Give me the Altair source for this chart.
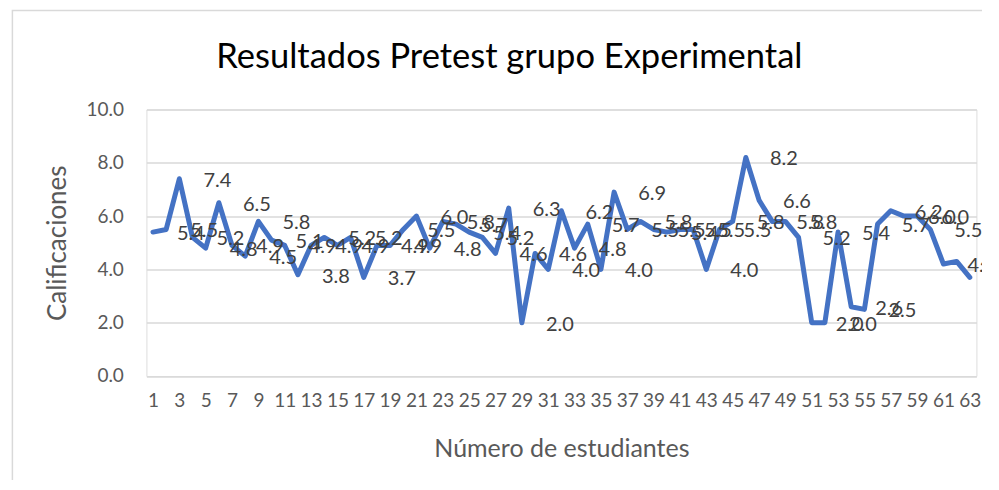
import altair as alt
import pandas as pd

students = list(range(1, 64))
scores = [5.4, 5.5, 7.4, 5.2, 4.8, 6.5, 4.9, 4.5, 5.8, 5.1,
          4.9, 3.8, 4.9, 5.2, 4.9, 5.2, 3.7, 4.9, 4.9, 5.5,
          6.0, 4.8, 5.8, 5.7, 5.4, 5.2, 4.6, 6.3, 2.0, 4.6,
          4.0, 6.2, 4.8, 5.7, 4.0, 6.9, 5.5, 5.8, 5.5, 5.4,
          5.5, 5.5, 4.0, 5.5, 5.8, 8.2, 6.6, 5.8, 5.8, 5.2,
          2.0, 2.0, 5.4, 2.6, 2.5, 5.7, 6.2, 6.0, 6.0, 5.5,
          4.2, 4.3, 3.7]
x_ticks = list(range(1, 64, 2))
y_ticks = [0, 2, 4, 6, 8, 10]

df = pd.DataFrame({"Estudiante": students, "Calificacion": scores})

FONT = "Lato"
GRAY = "#595959"
W, H = 830, 266.5

x_enc = alt.X("Estudiante:Q",
              scale=alt.Scale(domain=[0.5, 63.5], nice=False, zero=False),
              axis=alt.Axis(values=x_ticks, tickCount=100, format="d",
                            title="Número de estudiantes",
                            grid=False, ticks=False, domain=False,
                            labelOverlap=False, labelFlush=False,
                            labelFontSize=19, labelColor=GRAY, labelFont=FONT,
                            labelPadding=16, titleFont=FONT, titleFontSize=25,
                            titleColor=GRAY, titleFontWeight="normal",
                            titlePadding=26))
y_enc = alt.Y("Calificacion:Q",
              scale=alt.Scale(domain=[0, 10], nice=False),
              axis=alt.Axis(values=y_ticks, format=".1f", title="Calificaciones",
                            grid=True, gridColor="#d9d9d9", gridWidth=1.5,
                            ticks=False, domain=False,
                            labelFontSize=19, labelColor=GRAY, labelFont=FONT,
                            labelPadding=23, titleFont=FONT, titleFontSize=26,
                            titleColor=GRAY, titleFontWeight="normal",
                            titlePadding=15))

base = alt.Chart(df)

border = base.mark_rect(fillOpacity=0, stroke="#d9d9d9", strokeWidth=1.5).encode(
    x=alt.value(-134), x2=alt.value(W + 40),
    y=alt.value(-99), y2=alt.value(H + 140)
).transform_filter(alt.datum.Estudiante == 1)

line = base.mark_line(color="#4472C4", strokeWidth=5,
                      strokeJoin="round", strokeCap="round").encode(x=x_enc, y=y_enc)

labels = base.mark_text(dx=38, dy=2, fontSize=20, font=FONT, color="#404040",
                        baseline="middle", align="center").encode(
    x="Estudiante:Q", y="Calificacion:Q",
    text=alt.Text("Calificacion:Q", format=".1f"))

chart = alt.layer(border, line, labels).properties(
    width=W, height=H,
    title=alt.TitleParams("Resultados Pretest grupo Experimental",
                          font=FONT, fontSize=34.5, fontWeight="normal",
                          color="#000000", anchor="middle", baseline="alphabetic",
                          dx=-52, dy=93, offset=0),
    autosize=alt.AutoSizeParams(type="none"),
    padding={"left": 138.4, "top": 101.5, "right": 6, "bottom": 104},
).configure_view(stroke=None).configure(background="white")

chart.save("out.html", embed_options={"renderer": "svg", "actions": False})
